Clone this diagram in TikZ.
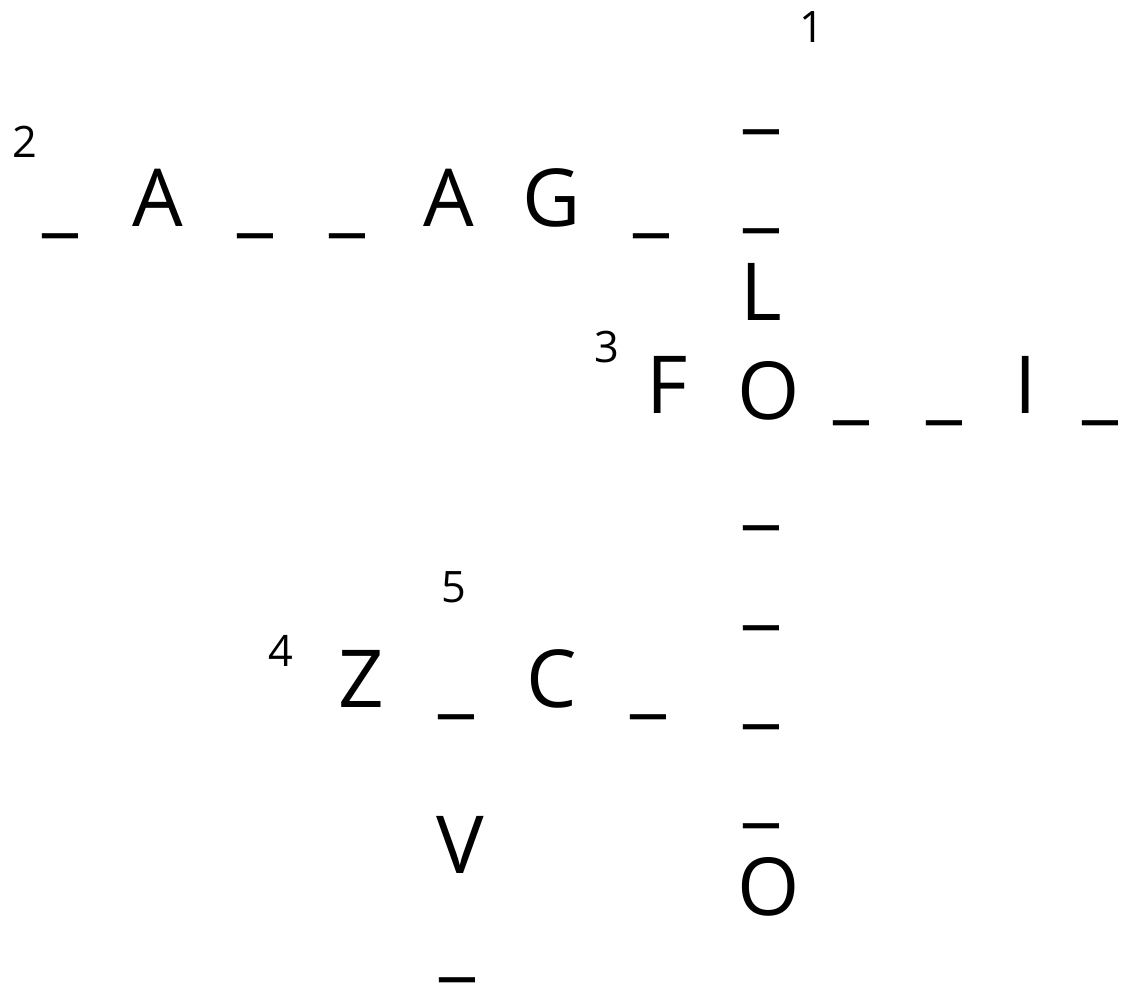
\documentclass[tikz,border=0pt]{standalone}
\usepackage{fontspec}
\setmainfont{Open Sans}

\begin{document}
\begin{tikzpicture}[
    x=0.75pt, y=-0.75pt,
    every node/.style={inner sep=0pt, outer sep=0pt, anchor=base},
    cell/.style={font=\fontsize{60}{72}\selectfont},
    blank/.style={cell},
    clue/.style={font=\fontsize{32.5}{39}\selectfont}
]
\useasboundingbox (0,0) rectangle (1122,983);

% clue numbers
\node[clue] (n1) at (811.5,42) {1};
\node[clue] (n2) at (24.5,157) {2};
\node[clue] (n3) at (606.5,362) {3};
\node[clue] (n4) at (280.5,666) {4};
\node[clue] (n5) at (453.5,602) {5};

% 2 across
\node[blank] (a1) at (60,226) {\_};
\node[cell]  (a2) at (157.5,226) {A};
\node[blank] (a3) at (255,226) {\_};
\node[blank] (a4) at (347,226) {\_};
\node[cell]  (a5) at (448.5,226) {A};
\node[cell]  (a6) at (551.5,226) {G};
\node[blank] (a7) at (651,226) {\_};

% 1 down
\node[blank] (d1) at (761,122) {\_};
\node[blank] (d2) at (761,221) {\_};
\node[cell]  (d3) at (761.5,320) {L};
\node[cell]  (d4) at (768.5,419) {O};
\node[blank] (d5) at (761,518) {\_};
\node[blank] (d6) at (761,618) {\_};
\node[blank] (d7) at (761,717) {\_};
\node[blank] (d8) at (761,816) {\_};
\node[cell]  (d9) at (768.5,915) {O};

% 3 across
\node[cell]  (f1) at (667,413) {F};
\node[blank] (f2) at (851,413) {\_};
\node[blank] (f3) at (944,413) {\_};
\node[cell]  (f4) at (1025.5,413) {I};
\node[blank] (f5) at (1100,413) {\_};

% 4 across
\node[cell]  (z1) at (361,707) {Z};
\node[blank] (z2) at (456,707) {\_};
\node[cell]  (z3) at (552,707) {C};
\node[blank] (z4) at (648,707) {\_};

% 5 down
\node[cell]  (v1) at (460,873) {V};
\node[blank] (v2) at (457,970) {\_};
\end{tikzpicture}
\end{document}
